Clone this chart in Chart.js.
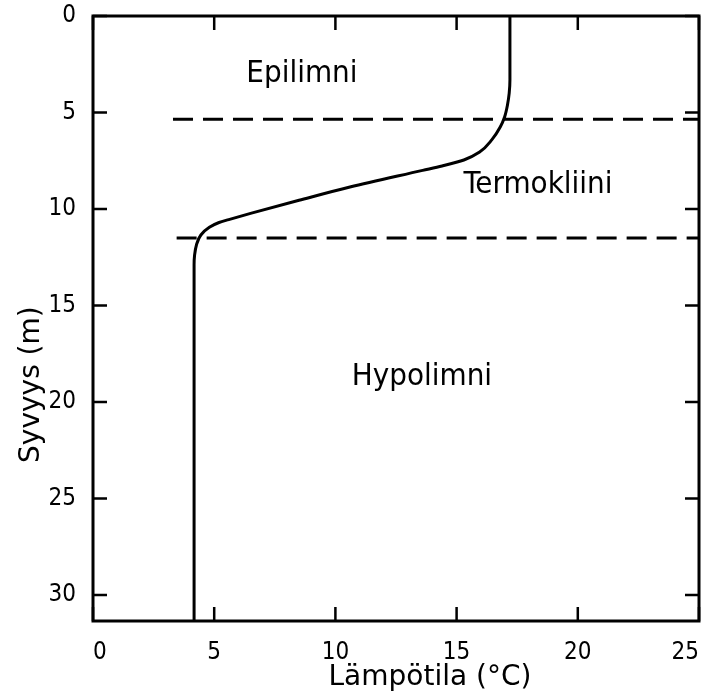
<!DOCTYPE html>
<html>
<head>
<meta charset="utf-8">
<script src="https://cdn.jsdelivr.net/npm/chart.js@4/dist/chart.umd.min.js"></script>
<style>
  html, body { margin: 0; padding: 0; background: #fff; }
  #wrap { width: 707px; height: 698px; }
</style>
</head>
<body>
<div id="wrap"><canvas id="myChart" width="707" height="698"></canvas></div>
<script>
// temperature profile (degC) against depth (m)
var temperature = [17.2, 17.2, 17.17, 17.1, 16.98, 16.8, 16.45, 15.95, 15.3, 14.4, 13.6, 10.6, 8.5, 6.5, 5.6, 5.2, 4.8, 4.45, 4.27, 4.19, 4.17, 4.17];
var depth       = [0, 3.3, 4.0, 4.6, 5.23, 5.75, 6.42, 7.05, 7.46, 7.77, 8.0, 8.86, 9.55, 10.23, 10.55, 10.7, 10.95, 11.35, 11.85, 12.4, 12.9, 31.35];

// layer boundaries (dashed lines)
var boundaryDepth = [5.35, 11.5];
var boundaryStart = [3.3, 3.45];

var xTicks = [0, 5, 10, 15, 20, 25];
var yTicks = [0, 5, 10, 15, 20, 25, 30];

var layerNames = ["Epilimni", "Termokliini", "Hypolimni"];
var layerTemp  = [8.62, 18.36, 13.57];
var layerDepth = [3.42, 9.17, 19.12];

var xTitle = "Lämpötila (°C)";
var yTitle = "Syvyys (m)";

var FONT = "'DejaVu Sans', sans-serif";
var FONT_NARROW = "'DejaVu Sans Condensed', 'DejaVu Sans', sans-serif";

var datasets = [{
  data: temperature.map(function (t, i) { return { x: t, y: depth[i] }; }),
  borderColor: "#000",
  borderWidth: 3,
  pointRadius: 0,
  cubicInterpolationMode: "monotone",
  fill: false
}];
for (var i = 0; i < boundaryDepth.length; i++) {
  datasets.push({
    data: [{ x: boundaryStart[i], y: boundaryDepth[i] }, { x: 25, y: boundaryDepth[i] }],
    borderColor: "#000",
    borderWidth: 3,
    borderDash: [20, 10],
    pointRadius: 0,
    fill: false
  });
}

// frame, inward ticks, layer names and axis titles
var framePlugin = {
  id: "frame",
  afterDraw: function (chart) {
    var ctx = chart.ctx;
    var a = chart.chartArea;
    var xs = chart.scales.x, ys = chart.scales.y;
    var tick = 14;
    ctx.save();
    ctx.strokeStyle = "#000";
    ctx.lineWidth = 3;
    ctx.strokeRect(a.left, a.top, a.right - a.left, a.bottom - a.top);
    ctx.lineWidth = 2.5;
    ctx.beginPath();
    xTicks.forEach(function (v) {
      var px = xs.getPixelForValue(v);
      ctx.moveTo(px, a.bottom); ctx.lineTo(px, a.bottom - tick);
      ctx.moveTo(px, a.top); ctx.lineTo(px, a.top + tick);
    });
    yTicks.forEach(function (v) {
      var py = ys.getPixelForValue(v);
      ctx.moveTo(a.left, py); ctx.lineTo(a.left + tick, py);
      ctx.moveTo(a.right, py); ctx.lineTo(a.right - tick, py);
    });
    ctx.stroke();

    ctx.fillStyle = "#000";
    ctx.font = "31px " + FONT_NARROW;
    ctx.textAlign = "center";
    ctx.textBaseline = "alphabetic";
    layerNames.forEach(function (name, i) {
      ctx.fillText(name, xs.getPixelForValue(layerTemp[i]), ys.getPixelForValue(layerDepth[i]));
    });

    ctx.font = "28px " + FONT;
    ctx.fillText(xTitle, xs.getPixelForValue(13.9), 685);
    ctx.translate(39, ys.getPixelForValue(19.1));
    ctx.rotate(-Math.PI / 2);
    ctx.fillText(yTitle, 0, 0);
    ctx.restore();
  }
};

var ctx = document.getElementById("myChart").getContext("2d");
var myChart = new Chart(ctx, {
  type: "scatter",
  data: { datasets: datasets },
  options: {
    indexAxis: "y",
    responsive: false,
    animation: false,
    showLine: true,
    layout: { padding: { top: 16, right: 8, left: 0, bottom: 0 } },
    plugins: { legend: { display: false }, tooltip: { enabled: false } },
    scales: {
      x: {
        type: "linear",
        min: 0,
        max: 25,
        grid: { display: false },
        border: { display: false },
        afterBuildTicks: function (s) { s.ticks = xTicks.map(function (v) { return { value: v }; }); },
        afterFit: function (s) { s.height = 77; s.paddingLeft = 0; s.paddingRight = 0; },
        ticks: { color: "#000", padding: 9, align: "inner", font: { family: FONT_NARROW, size: 24 } }
      },
      y: {
        type: "linear",
        min: 0,
        max: 31.35,
        reverse: true,
        grid: { display: false },
        border: { display: false },
        afterBuildTicks: function (s) { s.ticks = yTicks.map(function (v) { return { value: v }; }); },
        afterFit: function (s) { s.width = 93; s.paddingTop = 0; s.paddingBottom = 0; },
        ticks: { color: "#000", padding: 9, font: { family: FONT_NARROW, size: 24 } }
      }
    }
  },
  plugins: [framePlugin]
});
</script>
</body>
</html>
